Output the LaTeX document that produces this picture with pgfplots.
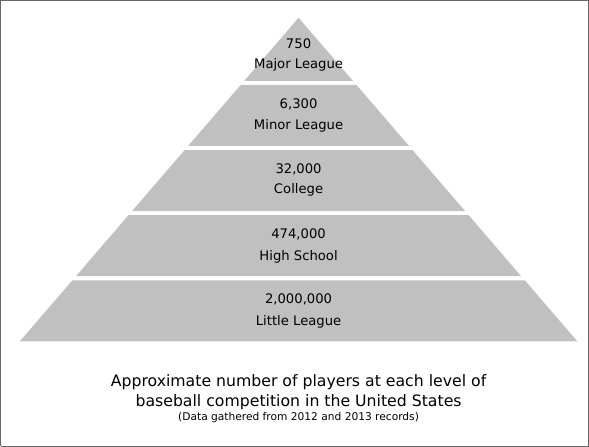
\documentclass[border=0pt]{standalone}
\usepackage{pgfplots}
\pgfplotsset{compat=1.18}
\usepackage{fontspec}
\setmainfont{DejaVu Sans}
\definecolor{pyr}{HTML}{C0C0C0}
\begin{document}
\begin{tikzpicture}
\begin{axis}[scale only axis, width=589bp, height=448bp, xmin=0, xmax=589, ymin=0, ymax=448, hide axis, clip=false]
\addplot[draw=black!60, line width=1pt] coordinates {(5,5)(583,5)(583,443)(5,443)(5,5)};
\addplot[fill=pyr, draw=none] coordinates {(244.6,364)(351.4,364)(298,426)} --cycle;
\addplot[fill=pyr, draw=none] coordinates {(241.1,360)(354.9,360)(406.6,300)(189.4,300)} --cycle;
\addplot[fill=pyr, draw=none] coordinates {(186,296)(410,296)(461.7,236)(134.3,236)} --cycle;
\addplot[fill=pyr, draw=none] coordinates {(130.8,232)(465.2,232)(516.8,172)(79.2,172)} --cycle;
\addplot[fill=pyr, draw=none] coordinates {(75.7,168)(520.3,168)(572,108)(24,108)} --cycle;
\node[font=\fontsize{13}{15}\selectfont] at (axis cs:298,401) {750};
\node[font=\fontsize{13}{15}\selectfont] at (axis cs:298,380) {Major League};
\node[font=\fontsize{13}{15}\selectfont] at (axis cs:298,341) {6,300};
\node[font=\fontsize{13}{15}\selectfont] at (axis cs:298,320) {Minor League};
\node[font=\fontsize{13}{15}\selectfont] at (axis cs:298,277) {32,000};
\node[font=\fontsize{13}{15}\selectfont] at (axis cs:298,257) {College};
\node[font=\fontsize{13}{15}\selectfont] at (axis cs:298,213) {474,000};
\node[font=\fontsize{13}{15}\selectfont] at (axis cs:298,191) {High School};
\node[font=\fontsize{13}{15}\selectfont] at (axis cs:298,149) {2,000,000};
\node[font=\fontsize{13}{15}\selectfont] at (axis cs:298,127) {Little League};
\node[font=\fontsize{15.5}{18}\selectfont] at (axis cs:298,68) {Approximate number of players at each level of};
\node[font=\fontsize{15.5}{18}\selectfont] at (axis cs:298,48) {baseball competition in the United States};
\node[font=\fontsize{10.5}{12}\selectfont] at (axis cs:298,33) {(Data gathered from 2012 and 2013 records)};
\end{axis}
\end{tikzpicture}
\end{document}
